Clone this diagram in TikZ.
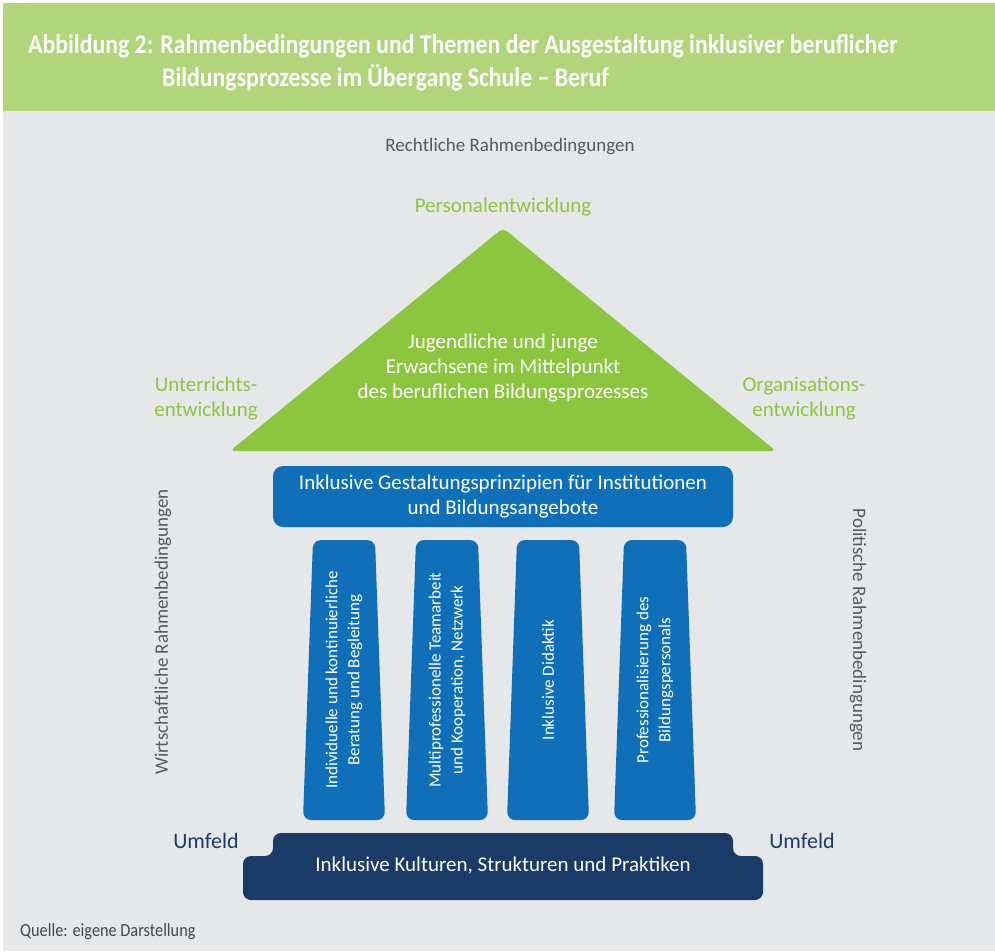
\documentclass[tikz,border=0pt]{standalone}
\usepackage{fontspec}
\setmainfont{Carlito}
\newfontfamily\condfont[FakeStretch=0.88]{Carlito}
\usetikzlibrary{positioning}
\definecolor{headgreen}{RGB}{176,213,123}
\definecolor{roofgreen}{RGB}{140,198,63}
\definecolor{pillarblue}{RGB}{15,111,184}
\definecolor{basenavy}{RGB}{26,58,104}
\definecolor{bggray}{RGB}{230,231,232}
\definecolor{labelgray}{RGB}{88,89,91}
\tikzstyle{bodytext}=[inner sep=0pt, align=center, font=\fontsize{21}{25}\selectfont]
\tikzstyle{greentext}=[bodytext, text=roofgreen]
\tikzstyle{graytext}=[bodytext, text=labelgray, font=\fontsize{19}{25}\selectfont]
\tikzstyle{whitetext}=[bodytext, text=white]
\tikzstyle{pillartext}=[inner sep=0pt, align=center, text=white, rotate=90, font=\fontsize{17}{22}\selectfont]
\newcommand{\npillar}[3]{
	\fill[pillarblue, rounded corners=8pt] (#2-31,540) -- (#2+31,540) -- (#2+41,820) -- (#2-41,820) -- cycle;
	\node[pillartext] (#1) at (#2,680) {#3};
}

\begin{document}
\begin{tikzpicture}[x=1pt, y=-1pt]
	\useasboundingbox (0,0) rectangle (995,951);
	\fill[white] (0,0) rectangle (995,951);
	\fill[bggray] (3,111) rectangle (995,951);
	\fill[headgreen] (3,3) rectangle (995,111);
	\node[anchor=base west, inner sep=0pt, text=white, font=\condfont\bfseries\fontsize{27}{33}\selectfont] (title1) at (28,53)
		{Abbildung 2: Rahmenbedingungen und Themen der Ausgestaltung inklusiver beruflicher};
	\node[anchor=base west, inner sep=0pt, text=white, font=\condfont\bfseries\fontsize{27}{33}\selectfont] (title2) at (162,86)
		{Bildungsprozesse im Übergang Schule – Beruf};
%
	\node[graytext] (recht) at (510,147) {Rechtliche Rahmenbedingungen};
	\node[greentext] (personal) at (503,207) {Personalentwicklung};
	\node[greentext] (unterricht) at (206,399) {Unterrichts-\\entwicklung};
	\node[greentext] (organisation) at (804,399) {Organisations-\\entwicklung};
%
	\fill[roofgreen, rounded corners=5pt] (503,228) -- (776,451) -- (230,451) -- cycle;
	\node[whitetext] (mitte) at (503,368) {Jugendliche und junge\\Erwachsene im Mittelpunkt\\des beruflichen Bildungsprozesses};
%
	\fill[pillarblue, rounded corners=10pt] (273,466) rectangle (733,527);
	\node[whitetext] (prinzip) at (503,497) {Inklusive Gestaltungsprinzipien für Institutionen\\und Bildungsangebote};
%
	\npillar{beratung}{344}{Individuelle und kontinuierliche\\Beratung und Begleitung}
	\npillar{team}{447}{Multiprofessionelle Teamarbeit\\und Kooperation, Netzwerk}
	\npillar{didaktik}{548}{Inklusive Didaktik}
	\npillar{personalpr}{655}{Professionalisierung des\\Bildungspersonals}
%
	\fill[basenavy, rounded corners=8pt] (273,856) -- (273,833) -- (733,833) -- (733,856) -- (763,856) -- (763,900) -- (243,900) -- (243,856) -- cycle;
	\node[whitetext] (kultur) at (503,866) {Inklusive Kulturen, Strukturen und Praktiken};
	\node[bodytext, text=basenavy, font=\fontsize{22}{25}\selectfont] (umfeldl) at (206,841) {Umfeld};
	\node[bodytext, text=basenavy, font=\fontsize{22}{25}\selectfont] (umfeldr) at (802,841) {Umfeld};
%
	\node[graytext, rotate=90] (wirtschaft) at (163,632) {Wirtschaftliche Rahmenbedingungen};
	\node[graytext, rotate=-90] (politik) at (858,630) {Politische Rahmenbedingungen};
	\node[anchor=base west, inner sep=0pt, text=labelgray!80!black, font=\condfont\fontsize{18.5}{22}\selectfont] (quelle) at (20,936) {Quelle: eigene Darstellung};
\end{tikzpicture}
\end{document}
